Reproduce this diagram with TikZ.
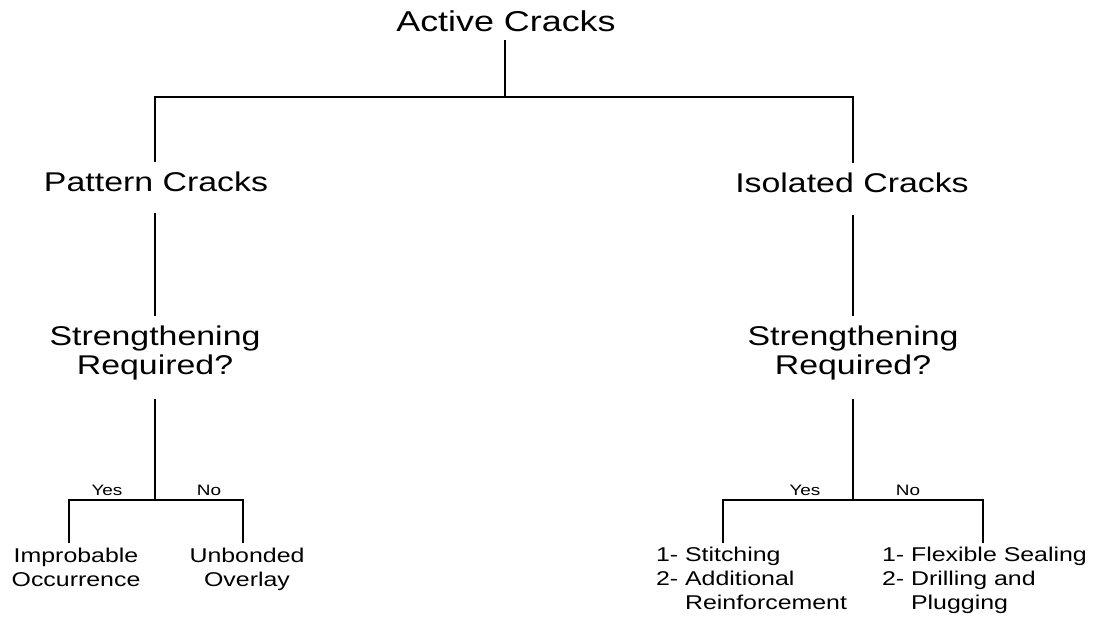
\documentclass[tikz,border=0pt]{standalone}
\usepackage{fontspec}
\setmainfont{Liberation Sans}
\tikzset{lbl/.style={inner sep=0pt, outer sep=0pt, yscale=0.8, transform shape}}
\tikzset{big/.style={lbl, font=\fontsize{34}{36}\selectfont, align=center}}
\tikzset{leaf/.style={lbl, font=\fontsize{25}{30}\selectfont}}
\tikzset{ans/.style={lbl, anchor=base, font=\fontsize{19}{22}\selectfont}}
\tikzset{ln/.style={line width=2.6bp}}
\tikzset{stem/.style={line width=2bp}}

\begin{document}
\begin{tikzpicture}[x=1bp, y=1bp]
\useasboundingbox (0,0) rectangle (1097,-619);

\node[lbl, anchor=base, font=\fontsize{36}{40}\selectfont] (act) at (506,-32) {Active Cracks};
\node[big, anchor=base] (pat) at (156,-192) {Pattern Cracks};
\node[big, anchor=base] (iso) at (852,-193) {Isolated Cracks};
\node[big] (pstr) at (155,-353) {Strengthening\\Required?};
\node[big] (istr) at (853,-353) {Strengthening\\Required?};

\node[leaf, anchor=north, align=center] (imp) at (76,-548) {Improbable\\Occurrence};
\node[leaf, anchor=north, align=center] (unb) at (247,-548) {Unbonded\\Overlay};
\node[leaf, anchor=north west, align=left] (stl) at (656,-547) {1- Stitching\\2- Additional\\\phantom{2- }Reinforcement};
\node[leaf, anchor=north west, align=left] (fxl) at (882,-547) {1- Flexible Sealing\\2- Drilling and\\\phantom{2- }Plugging};

\node[ans] (py) at (107,-495) {Yes};
\node[ans] (pn) at (209,-495) {No};
\node[ans] (iy) at (805,-495) {Yes};
\node[ans] (in) at (908,-495) {No};

\coordinate (j0) at (505,-97);
\coordinate (j1) at (155,-500);
\coordinate (j2) at (853,-500);

% top level
\draw[ln, shorten <=8bp] (act.south -| j0) -- (j0);
\draw[ln, shorten <=10bp, shorten >=10bp] (pat.north -| pstr) |- (j0) -| (iso.north -| istr);

% down to the questions
\draw[stem, shorten <=21bp, shorten >=10bp] (pat.south -| pstr) -- (pstr.north);
\draw[stem, shorten <=22bp, shorten >=10bp] (iso.south -| istr) -- (istr.north);

% pattern cracks branch
\draw[ln, shorten <=19bp] (pstr.south) -- (j1);
\draw[ln, shorten <=5bp, shorten >=5bp] ([xshift=-7bp]imp.north) |- (j1) -| ([xshift=-4bp]unb.north);

% isolated cracks branch
\draw[ln, shorten <=19bp] (istr.south) -- (j2);
\draw[ln, shorten <=4bp, shorten >=4bp] ([xshift=67bp]stl.north west) |- (j2) -| ([xshift=101bp]fxl.north west);
\end{tikzpicture}
\end{document}
